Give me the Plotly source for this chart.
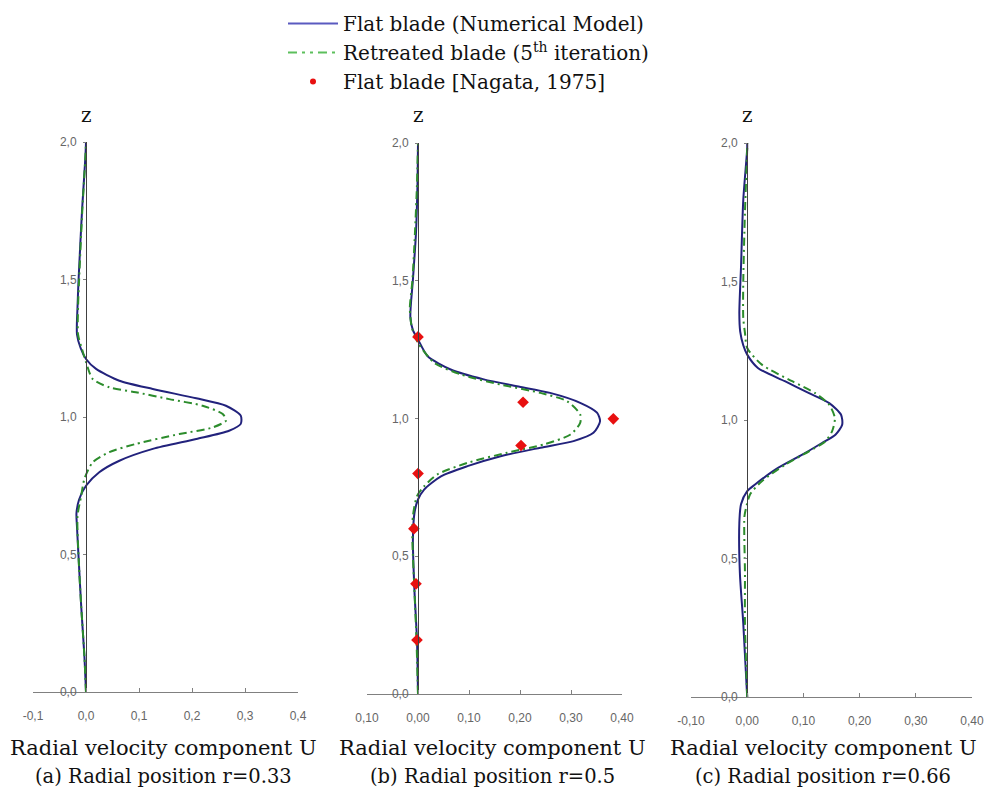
import plotly.graph_objects as go

W, H = 988, 797

# ---------------- data ----------------
# Panel (a) r = 0.33
a_flat_z = [0.0, 0.13, 0.31, 0.49, 0.60, 0.65, 0.70, 0.75, 0.799, 0.841, 0.884, 0.92, 0.95, 0.975,
            1.005, 1.041, 1.068, 1.102, 1.132, 1.175, 1.211, 1.25, 1.30, 1.40, 1.50, 1.75, 1.95, 2.0]
a_flat_u = [0.0, -0.003, -0.009, -0.014, -0.017, -0.018, -0.013, 0.0, 0.025, 0.063, 0.126, 0.208, 0.27, 0.292,
            0.292, 0.264, 0.208, 0.126, 0.063, 0.019, 0.0, -0.01, -0.017, -0.016, -0.014, -0.0075, -0.001, 0.0]
a_retr_z = [0.0, 0.13, 0.31, 0.49, 0.64, 0.714, 0.775, 0.835, 0.872, 0.902, 0.938, 0.962, 0.987, 1.011,
            1.041, 1.065, 1.09, 1.108, 1.138, 1.20, 1.25, 1.30, 1.40, 1.50, 1.75, 1.95, 2.0]
a_retr_u = [0.0, -0.003, -0.009, -0.014, -0.016, -0.009, -0.003, 0.0126, 0.044, 0.094, 0.176, 0.239, 0.264, 0.258,
            0.22, 0.157, 0.094, 0.044, 0.0126, 0.0, -0.008, -0.015, -0.015, -0.013, -0.007, -0.001, 0.0]

# Panel (b) r = 0.5
b_flat_z = [0.0, 0.196, 0.377, 0.559, 0.656, 0.706, 0.742, 0.79, 0.827, 0.863, 0.894, 0.918, 0.948, 0.99,
            1.021, 1.057, 1.093, 1.117, 1.142, 1.178, 1.226, 1.287, 1.321, 1.369, 1.503, 1.672, 1.85, 2.0]
b_flat_u = [0.0, -0.002, -0.007, -0.01, -0.007, 0.0, 0.012, 0.045, 0.097, 0.162, 0.24, 0.305, 0.344, 0.357,
            0.351, 0.318, 0.259, 0.194, 0.129, 0.064, 0.019, 0.0, -0.01, -0.015, -0.01, -0.004, -0.001, 0.0]
b_retr_z = [0.0, 0.196, 0.377, 0.559, 0.645, 0.718, 0.754, 0.797, 0.839, 0.876, 0.906, 0.942, 0.984,
            1.015, 1.063, 1.093, 1.123, 1.16, 1.202, 1.275, 1.33, 1.40, 1.50, 1.672, 1.85, 2.0]
b_retr_u = [0.0, -0.003, -0.007, -0.011, -0.01, -0.002, 0.012, 0.038, 0.097, 0.175, 0.247, 0.299, 0.318,
            0.318, 0.292, 0.24, 0.162, 0.084, 0.032, 0.0, -0.012, -0.016, -0.011, -0.006, -0.002, 0.0]
b_nagata_z = [0.196, 0.40, 0.60, 0.80, 0.902, 0.999, 1.059, 1.296]
b_nagata_u = [-0.002, -0.004, -0.008, 0.0, 0.202, 0.383, 0.206, 0.0]

# Panel (c) r = 0.66
c_flat_z = [0.0, 0.266, 0.447, 0.627, 0.696, 0.743, 0.767, 0.821, 0.875, 0.917, 0.947, 0.983, 1.019,
            1.061, 1.097, 1.14, 1.188, 1.236, 1.27, 1.32, 1.385, 1.553, 1.794, 1.98, 2.0]
c_flat_u = [0.0, -0.007, -0.013, -0.014, -0.011, 0.0, 0.014, 0.05, 0.098, 0.133, 0.157, 0.169, 0.167,
            0.146, 0.11, 0.067, 0.019, 0.0, -0.007, -0.0125, -0.014, -0.011, -0.007, 0.0, 0.0]
c_retr_z = [0.0, 0.266, 0.45, 0.65, 0.683, 0.731, 0.779, 0.839, 0.887, 0.923, 0.959, 1.007, 1.055,
            1.097, 1.14, 1.2, 1.26, 1.315, 1.368, 1.5, 1.75, 1.98, 2.0]
c_retr_u = [0.0, -0.004, -0.004, -0.005, -0.002, 0.005, 0.026, 0.068, 0.11, 0.139, 0.151, 0.156, 0.146,
            0.121, 0.08, 0.026, 0.0, -0.004, -0.007, -0.007, -0.004, 0.0, 0.0]

# tick labels
x_tickvals = [-0.1, 0.0, 0.1, 0.2, 0.3, 0.4]
a_x_ticktext = ["-0,1", "0,0", "0,1", "0,2", "0,3", "0,4"]
b_x_ticktext = ["0,10", "0,00", "0,10", "0,20", "0,30", "0,40"]
c_x_ticktext = ["-0,10", "0,00", "0,10", "0,20", "0,30", "0,40"]
y_tickvals = [0.0, 0.5, 1.0, 1.5, 2.0]
y_ticktext = ["0,0", "0,5", "1,0", "1,5", "2,0"]

legend_names = ["Flat blade (Numerical Model)",
                "Retreated blade (5<sup>th</sup> iteration)",
                "Flat blade [Nagata, 1975]"]
x_title = "Radial velocity component U"
captions = ["(a) Radial position r=0.33", "(b) Radial position r=0.5", "(c) Radial position r=0.66"]

# ---------------- styling ----------------
BLUE = "#22227c"
GREEN = "#2c8c2c"
RED = "#e81010"
SERIF = "DejaVu Serif"
SANS = "Liberation Sans"


def fx(px):
    # screen pixel -> paper fraction
    return px / W


def fy(py):
    return 1 - py / H


# screen-pixel geometry of each panel: x of U=-0.1, x of U=0.4, y of z=0, y of z=2
geom = [
    (33, 298, 692, 142),
    (367, 622, 694, 143),
    (691, 972, 697, 143),
]

panels = [
    (a_flat_u, a_flat_z, a_retr_u, a_retr_z, a_x_ticktext),
    (b_flat_u, b_flat_z, b_retr_u, b_retr_z, b_x_ticktext),
    (c_flat_u, c_flat_z, c_retr_u, c_retr_z, c_x_ticktext),
]

fig = go.Figure()

for i, (fu, fz, ru, rz, xtt) in enumerate(panels):
    xa = "x" if i == 0 else f"x{i + 1}"
    ya = "y" if i == 0 else f"y{i + 1}"
    fig.add_trace(go.Scatter(x=fu, y=fz, xaxis=xa, yaxis=ya, mode="lines",
                             line=dict(color=BLUE, width=2, shape="spline", smoothing=0.7),
                             showlegend=False, hoverinfo="skip"))
    fig.add_trace(go.Scatter(x=ru, y=rz, xaxis=xa, yaxis=ya, mode="lines",
                             line=dict(color=GREEN, width=2, shape="spline", smoothing=0.7,
                                       dash="8px,4px,2px,4px"),
                             showlegend=False, hoverinfo="skip"))
    if i == 1:
        fig.add_trace(go.Scatter(x=b_nagata_u, y=b_nagata_z, xaxis=xa, yaxis=ya, mode="markers",
                                 marker=dict(symbol="diamond", size=9, color=RED),
                                 showlegend=False, hoverinfo="skip"))

    x0, x1, yb, yt = geom[i]
    xkey = "xaxis" if i == 0 else f"xaxis{i + 1}"
    ykey = "yaxis" if i == 0 else f"yaxis{i + 1}"
    zero_px = x0 + (x1 - x0) * 0.2
    fig.update_layout(**{
        xkey: dict(domain=[fx(x0), fx(x1)], range=[-0.1, 0.4], anchor=ya, automargin=False,
                   showline=True, linecolor="#808080", linewidth=1,
                   ticks="inside", ticklen=4, tickcolor="#808080",
                   tickvals=x_tickvals, ticktext=xtt,
                   tickfont=dict(family=SANS, size=12, color="#666666"),
                   ticklabelstandoff=13,
                   showgrid=False, zeroline=False, fixedrange=True),
        ykey: dict(domain=[fy(yb), fy(yt)], range=[0, 2], anchor="free", position=fx(zero_px),
                   automargin=False,
                   showline=True, linecolor="#404040", linewidth=1,
                   ticks="outside", ticklen=3, tickcolor="#808080",
                   tickvals=y_tickvals, ticktext=y_ticktext,
                   tickfont=dict(family=SANS, size=12, color="#666666"),
                   ticklabelstandoff=4,
                   showgrid=False, zeroline=False, fixedrange=True),
    })

# legend-only entries
fig.add_trace(go.Scatter(x=[None], y=[None], mode="lines", name=legend_names[0],
                         line=dict(color="#5a5ac0", width=2)))
fig.add_trace(go.Scatter(x=[None], y=[None], mode="lines", name=legend_names[1],
                         line=dict(color="#5cbf5c", width=2, dash="9px,5px,3px,5px,3px,5px")))
fig.add_trace(go.Scatter(x=[None], y=[None], mode="markers", name=legend_names[2],
                         marker=dict(color=RED, size=6, symbol="circle")))

annotations = []
for i, (x0, x1, yb, yt) in enumerate(geom):
    zero_px = x0 + (x1 - x0) * 0.2
    annotations.append(dict(text="z", x=fx(zero_px), y=fy(115), xref="paper", yref="paper",
                            showarrow=False, xanchor="center", yanchor="middle",
                            font=dict(family=SERIF, size=20, color="#111111")))
centers = [163, 492, 823]
for i, c in enumerate(centers):
    annotations.append(dict(text=x_title, x=fx(c), y=fy(748), xref="paper", yref="paper",
                            showarrow=False, xanchor="center", yanchor="middle",
                            font=dict(family=SERIF, size=21, color="#111111")))
    annotations.append(dict(text=captions[i], x=fx(c), y=fy(776), xref="paper", yref="paper",
                            showarrow=False, xanchor="center", yanchor="middle",
                            font=dict(family=SERIF, size=19.5, color="#111111")))

fig.update_layout(
    width=W, height=H,
    margin=dict(l=0, r=0, t=0, b=0),
    paper_bgcolor="white", plot_bgcolor="white",
    showlegend=True,
    legend=dict(x=fx(283), y=fy(4), xanchor="left", yanchor="top",
                bgcolor="rgba(0,0,0,0)", borderwidth=0, itemwidth=50,
                font=dict(family=SERIF, size=20, color="#111111")),
    annotations=annotations,
)

# drop the page's default body margin so the figure fills the window exactly
fig.write_html("out.html",
               config={"displayModeBar": False, "staticPlot": True},
               post_script="document.body.style.margin='0';document.body.style.overflow='hidden';")
